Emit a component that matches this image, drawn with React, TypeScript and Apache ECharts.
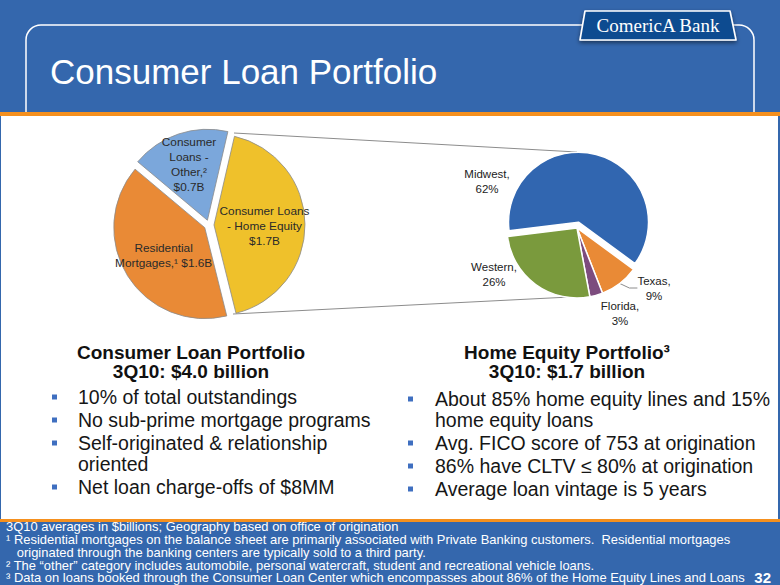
import React, { useEffect, useRef } from "react";
import * as echarts from "echarts";

// ---------- data ----------
const leftCategories = ["Consumer Loans - Home Equity", "Residential Mortgages", "Consumer Loans - Other"];
const leftValues = [1.7, 1.6, 0.7];
const leftLabelTemplates = [
  "Consumer Loans\n- Home Equity\n{v}",
  "Residential\nMortgages,¹ {v}",
  "Consumer\nLoans -\nOther,²\n{v}",
];

const rightCategories = ["Midwest", "Texas", "Florida", "Western"];
const rightValues = [62, 9, 3, 26];

const titleText = "Consumer Loan Portfolio";
const logoText = "ComericA Bank";
const leftHeading = ["Consumer Loan Portfolio", "3Q10: $4.0 billion"];
const leftBullets = [
  ["10% of total outstandings"],
  ["No sub-prime mortgage programs"],
  ["Self-originated & relationship", "oriented"],
  ["Net loan charge-offs of $8MM"],
];
const rightHeading = ["Home Equity Portfolio³", "3Q10: $1.7 billion"];
const rightBullets = [
  ["About 85% home equity lines and 15%", "home equity loans"],
  ["Avg. FICO score of 753 at origination"],
  ["86% have CLTV ≤ 80% at origination"],
  ["Average loan vintage is 5 years"],
];
const footnotes = [
  "3Q10 averages in $billions; Geography based on office of origination",
  "¹ Residential mortgages on the balance sheet are primarily associated with Private Banking customers.  Residential mortgages",
  "   originated through the banking centers are typically sold to a third party.",
  "² The “other” category includes automobile, personal watercraft, student and recreational vehicle loans.",
  "³ Data on loans booked through the Consumer Loan Center which encompasses about 86% of the Home Equity Lines and Loans",
];
const pageNumber = "32";

// ---------- styles ----------
const FONT = "'Liberation Sans', Arial, Helvetica, sans-serif";
const BLUE = "#3467AD";
const ORANGE = "#F5901E";
const leftColors = ["#EFC12B", "#E98A36", "#7BA7DB"];
const rightColors = ["#3166B0", "#E98A36", "#7D4C7E", "#7A9A3D"];
const leftLabelShift = [
  [2, 1],
  [0, 2],
  [-3, -10],
];
const rightLabelPos = [
  [487, 181],
  [654, 288],
  [620, 313],
  [494, 274],
];

function bulletBlock(heading: string[], bullets: string[][], cx: number, bx: number, tx: number, y0: number) {
  const els: any[] = [];
  heading.forEach((h, i) => {
    els.push({
      type: "text",
      style: {
        text: h,
        x: cx,
        y: 352 + i * 19,
        fill: "#111",
        font: `bold 19px ${FONT}`,
        textAlign: "center",
        textVerticalAlign: "middle",
      },
    });
  });
  let y = y0;
  bullets.forEach((lines) => {
    els.push({
      type: "rect",
      shape: { x: bx, y: y - 2.5, width: 5, height: 5 },
      style: { fill: "#3F6FC0" },
    });
    lines.forEach((ln, j) => {
      els.push({
        type: "text",
        style: {
          text: ln,
          x: tx,
          y: y,
          fill: "#161616",
          font: `19.5px ${FONT}`,
          textAlign: "left",
          textVerticalAlign: "middle",
        },
      });
      if (j < lines.length - 1) y += 21;
    });
    y += 23;
  });
  return els;
}

export default function App() {
  const ref = useRef<HTMLDivElement>(null);
  useEffect(() => {
    document.body.style.margin = "0";
    const chart = echarts.init(ref.current!, null, { renderer: "svg", width: 780, height: 585 });

    const graphics: any[] = [
      // header outline
      {
        type: "rect",
        shape: { x: 26, y: 25, width: 728, height: 160, r: 15 },
        style: { fill: "none", stroke: "#ffffff", lineWidth: 1.5 },
        z: 1,
      },
      // logo
      {
        type: "polygon",
        shape: {
          points: [
            [585, 11],
            [730, 11],
            [736, 40],
            [580, 40],
          ],
        },
        style: {
          fill: "#114C90",
          stroke: "#ffffff",
          lineWidth: 1.6,
          lineJoin: "round",
          shadowBlur: 4,
          shadowOffsetY: 2,
          shadowColor: "rgba(0,0,0,0.5)",
        },
        z: 2,
      },
      {
        type: "text",
        style: {
          text: logoText,
          x: 658,
          y: 25,
          fill: "#ffffff",
          font: "19px 'Liberation Serif', 'DejaVu Serif', serif",
          textAlign: "center",
          textVerticalAlign: "middle",
        },
        z: 3,
      },
      // title
      {
        type: "text",
        style: {
          text: titleText,
          x: 50,
          y: 71,
          fill: "#ffffff",
          font: `35px ${FONT}`,
          textAlign: "left",
          textVerticalAlign: "middle",
        },
        z: 3,
      },
      // orange + white body
      { type: "rect", shape: { x: 0, y: 112, width: 780, height: 4 }, style: { fill: ORANGE }, z: 4 },
      { type: "rect", shape: { x: 1, y: 116, width: 777, height: 403 }, style: { fill: "#ffffff" }, z: 4 },
      { type: "rect", shape: { x: 0, y: 519, width: 780, height: 3 }, style: { fill: ORANGE }, z: 4 },
      // connector lines
      {
        type: "line",
        shape: { x1: 234, y1: 133, x2: 577, y2: 152 },
        style: { stroke: "#8c8c8c", lineWidth: 1 },
        z: 5,
      },
      {
        type: "line",
        shape: { x1: 233, y1: 314, x2: 590, y2: 296 },
        style: { stroke: "#8c8c8c", lineWidth: 1 },
        z: 5,
      },
      // Midwest label (from data)
      {
        type: "text",
        z: 5,
        style: {
          text: `${rightCategories[0]},\n${rightValues[0]}%`,
          x: rightLabelPos[0][0],
          y: rightLabelPos[0][1],
          fill: "#222",
          font: `11.5px ${FONT}`,
          lineHeight: 15,
          textAlign: "center",
          textVerticalAlign: "middle",
        },
      },
      ...bulletBlock(leftHeading, leftBullets, 191, 52, 78, 397).map((e) => ({ ...e, z: 5 })),
      ...bulletBlock(rightHeading, rightBullets, 567, 408, 435, 399).map((e) => ({ ...e, z: 5 })),
      ...footnotes.map((t, i) => ({
        type: "text",
        z: 5,
        x: 6,
        y: 527 + i * 12.9,
        scaleX: 1.08,
        style: {
          text: t,
          x: 0,
          y: 0,
          fill: "#ffffff",
          font: `12px ${FONT}`,
          textAlign: "left",
          textVerticalAlign: "middle",
        },
      })),
      {
        type: "text",
        z: 5,
        style: {
          text: pageNumber,
          x: 771,
          y: 577,
          fill: "#ffffff",
          font: `bold 15px ${FONT}`,
          textAlign: "right",
          textVerticalAlign: "middle",
        },
      },
    ];

    const option: any = {
      animation: false,
      backgroundColor: BLUE,
      graphic: { elements: graphics },
      series: [
        {
          type: "pie",
          z: 10,
          silent: true,
          center: [209, 225],
          radius: 91,
          startAngle: 77,
          clockwise: true,
          selectedMode: "multiple",
          selectedOffset: 5,
          data: leftValues.map((v, i) => ({
            value: v,
            name: leftCategories[i],
            selected: true,
            itemStyle: { color: leftColors[i] },
          })),
          itemStyle: { borderColor: "#8a8a8a", borderWidth: 0.8 },
          select: { itemStyle: { borderColor: "#8a8a8a", borderWidth: 0.8 } },
          emphasis: { disabled: true },
          label: {
            show: true,
            position: "inner",
            formatter: (p: any) =>
              leftLabelTemplates[p.dataIndex].replace("{v}", "$" + Number(p.value).toFixed(1) + "B"),
            color: "#2a2a2a",
            fontSize: 11.8,
            lineHeight: 15,
            fontFamily: FONT,
            align: "center",
          },
          labelLine: { show: false },
          labelLayout: (p: any) => ({ dx: leftLabelShift[p.dataIndex][0], dy: leftLabelShift[p.dataIndex][1] }),
        },
        {
          type: "pie",
          z: 10,
          silent: true,
          center: [577, 228],
          radius: 70,
          startAngle: 187,
          clockwise: true,
          selectedMode: "multiple",
          selectedOffset: 6,
          data: rightValues.map((v, i) => ({
            value: v,
            name: rightCategories[i],
            selected: i === 0,
            itemStyle: { color: rightColors[i] },
            label: { show: i !== 0 },
            labelLine: { show: i === 1, lineStyle: { color: "#8c8c8c", width: 1 } },
          })),
          itemStyle: { borderColor: "#ffffff", borderWidth: 1.5 },
          select: { itemStyle: { borderColor: "#ffffff", borderWidth: 1.5 } },
          emphasis: { disabled: true },
          label: {
            show: true,
            position: "outside",
            formatter: (p: any) => `${p.name},\n${p.value}%`,
            color: "#222",
            fontSize: 11.5,
            lineHeight: 15,
            fontFamily: FONT,
            align: "center",
          },
          labelLine: { show: false, length: 8, length2: 8 },
          labelLayout: (p: any) => ({
            x: rightLabelPos[p.dataIndex][0],
            y: rightLabelPos[p.dataIndex][1],
            align: "center",
            verticalAlign: "middle",
          }),
        },
      ],
    };
    chart.setOption(option);
    return () => chart.dispose();
  }, []);
  return <div ref={ref} style={{ width: 780, height: 585, position: "absolute", left: 0, top: 0 }} />;
}
